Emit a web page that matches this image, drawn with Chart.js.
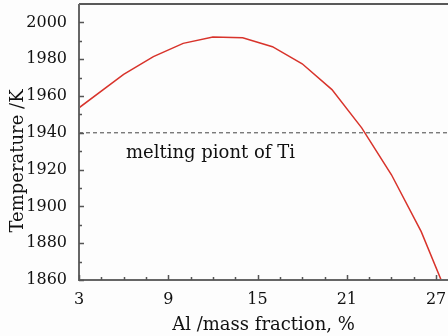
<!DOCTYPE html>
<html>
<head>
<meta charset="utf-8">
<script src="https://cdn.jsdelivr.net/npm/chart.js@4"></script>
<style>
  html, body { margin: 0; padding: 0; background: #fdfdfd; }
  #wrap { width: 448px; height: 336px; }
</style>
</head>
<body>
<div id="wrap"><canvas id="myChart" width="448" height="336"></canvas></div>
<script>
// Al mass fraction (%) vs temperature (K)
let alFraction = [3, 6, 8, 10, 12, 14, 16, 18, 20, 22, 24, 26, 28];
let temperature = [1953.6, 1971.7, 1981.4, 1988.6, 1992.0, 1991.7, 1986.8, 1977.5, 1963.5, 1942.7, 1917.2, 1886.3, 1847];
let meltingPoint = 1940;
let xTicks = [3, 9, 15, 21, 27];
let xMinorTicks = [4.5, 6, 7.5, 10.5, 12, 13.5, 16.5, 18, 19.5, 22.5, 24, 25.5];
let yTicks = [1860, 1880, 1900, 1920, 1940, 1960, 1980, 2000];
let yMinorTicks = [1870, 1890, 1910, 1930, 1950, 1970, 1990];

const serif = "'DejaVu Serif', serif";

const framePlugin = {
  id: "frame",
  afterDraw(chart) {
    const ctx = chart.ctx;
    const a = chart.chartArea;
    const xs = chart.scales.x, ys = chart.scales.y;
    ctx.save();
    // top border
    ctx.strokeStyle = "#222";
    ctx.lineWidth = 1.5;
    ctx.beginPath();
    ctx.moveTo(a.left, a.top);
    ctx.lineTo(a.right, a.top);
    ctx.stroke();
    // axes
    ctx.strokeStyle = "#666";
    ctx.lineWidth = 2;
    ctx.beginPath();
    ctx.moveTo(a.left, a.top);
    ctx.lineTo(a.left, a.bottom);
    ctx.lineTo(a.right, a.bottom);
    ctx.stroke();
    // inward ticks
    ctx.lineWidth = 1.5;
    ctx.strokeStyle = "#555";
    ctx.beginPath();
    xTicks.forEach((v) => {
      const px = Math.round(xs.getPixelForValue(v)) + 0.5;
      ctx.moveTo(px, a.bottom);
      ctx.lineTo(px, a.bottom - 5);
    });
    xMinorTicks.forEach((v) => {
      const px = Math.round(xs.getPixelForValue(v)) + 0.5;
      ctx.moveTo(px, a.bottom);
      ctx.lineTo(px, a.bottom - 3);
    });
    yTicks.forEach((v) => {
      const py = Math.round(ys.getPixelForValue(v)) + 0.5;
      ctx.moveTo(a.left, py);
      ctx.lineTo(a.left + 5, py);
    });
    yMinorTicks.forEach((v) => {
      const py = Math.round(ys.getPixelForValue(v)) + 0.5;
      ctx.moveTo(a.left, py);
      ctx.lineTo(a.left + 3, py);
    });
    ctx.stroke();
    // annotation
    ctx.fillStyle = "#111";
    ctx.font = "18px " + serif;
    ctx.textBaseline = "alphabetic";
    ctx.textAlign = "left";
    ctx.fillText("melting piont of Ti", 126, ys.getPixelForValue(meltingPoint) + 25);
    // y title
    ctx.translate(18, 161);
    ctx.rotate(-Math.PI / 2);
    ctx.textAlign = "center";
    ctx.textBaseline = "middle";
    ctx.fillText("Temperature /K", 0, 0);
    ctx.restore();
  },
};

var ctx = document.getElementById("myChart").getContext("2d");
var myChart = new Chart(ctx, {
  type: "line",
  data: {
    datasets: [
      {
        data: alFraction.map((x, i) => ({ x: x, y: temperature[i] })),
        borderColor: "#d8332b",
        borderWidth: 1.5,
        pointRadius: 0,
        tension: 0,
        fill: false,
      },
      {
        data: [
          { x: 3, y: meltingPoint },
          { x: 27.8, y: meltingPoint },
        ],
        borderColor: "#444",
        borderWidth: 1,
        borderDash: [4, 3],
        pointRadius: 0,
        fill: false,
      },
    ],
  },
  options: {
    responsive: false,
    animation: false,
    layout: { padding: { top: 4, right: 0, left: 0, bottom: 0 } },
    plugins: { legend: { display: false }, tooltip: { enabled: false } },
    scales: {
      x: {
        type: "linear",
        min: 3,
        max: 27.8,
        afterBuildTicks: (s) => { s.ticks = xTicks.map((v) => ({ value: v })); },
        afterFit: (s) => {
          s.height = 56;
          s.paddingLeft = 0;
          s.paddingRight = 0;
        },
        grid: { display: false },
        border: { display: false },
        ticks: {
          color: "#111",
          font: { family: serif, size: 16 },
          padding: 2,
          maxRotation: 0,
          autoSkip: false,
          callback: (v) => String(v),
        },
        title: {
          display: true,
          text: "Al /mass fraction, %",
          color: "#111",
          font: { family: serif, size: 18 },
          padding: { top: 0, bottom: 0 },
        },
      },
      y: {
        min: 1860,
        max: 2010,
        afterBuildTicks: (s) => { s.ticks = yTicks.map((v) => ({ value: v })); },
        afterFit: (s) => {
          s.width = 79;
          s.paddingTop = 0;
          s.paddingBottom = 0;
        },
        grid: { display: false },
        border: { display: false },
        ticks: {
          color: "#111",
          font: { family: serif, size: 16 },
          padding: 4,
          callback: (v) => String(v),
        },
      },
    },
  },
  plugins: [framePlugin],
});
</script>
</body>
</html>
